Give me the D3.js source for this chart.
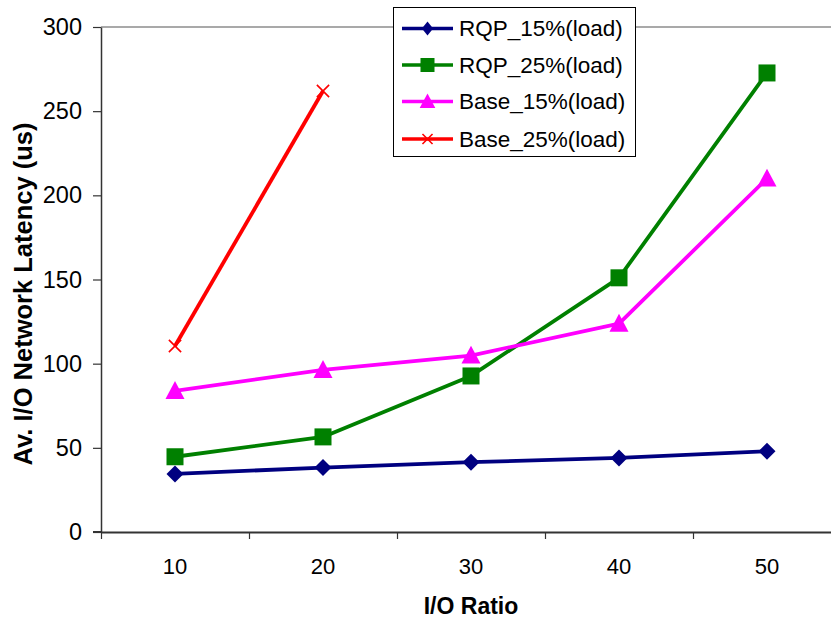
<!DOCTYPE html>
<html>
<head>
<meta charset="utf-8">
<script src="https://cdn.jsdelivr.net/npm/d3@7"></script>
<style>
  html, body { margin: 0; padding: 0; background: #fff; }
  svg { display: block; font-family: "Liberation Sans", Arial, sans-serif; }
</style>
</head>
<body>
<svg id="chart" width="831" height="619"></svg>
<script>
// I/O ratio categories and average latency (us) per configuration
const categories = ["10", "20", "30", "40", "50"];
const rqp15 = [34.5, 38.3, 41.5, 44, 48];
const rqp25 = [44.7, 56.5, 92.7, 151, 272.7];
const base15 = [83.8, 96.3, 104.8, 123.8, 210];
const base25 = [110.5, 262];
const yTicks = [0, 50, 100, 150, 200, 250, 300];

const series = [
  { name: "RQP_15%(load)", values: rqp15, color: "#000080", marker: "diamond" },
  { name: "RQP_25%(load)", values: rqp25, color: "#008000", marker: "square" },
  { name: "Base_15%(load)", values: base15, color: "#FF00FF", marker: "triangle" },
  { name: "Base_25%(load)", values: base25, color: "#FF0000", marker: "cross" }
];

const svg = d3.select("#chart");
const plotLeft = 101, plotRight = 841, plotTop = 27, plotBottom = 532;

const x = d3.scaleBand().domain(categories).range([plotLeft, plotRight]).paddingInner(0).paddingOuter(0);
const y = d3.scaleLinear().domain([0, 300]).range([plotBottom, plotTop]);
const edges = d3.scaleLinear().domain([0, categories.length]).range([plotLeft, plotRight]);

// top border line at the axis maximum
svg.append("line")
  .attr("x1", plotLeft).attr("x2", plotRight)
  .attr("y1", y(300)).attr("y2", y(300))
  .attr("stroke", "#8c8c8c").attr("stroke-width", 1.5);

// y axis
const yAxis = svg.append("g")
  .attr("transform", `translate(${plotLeft},0)`)
  .call(d3.axisLeft(y).tickValues(yTicks).tickSize(8).tickPadding(11).tickSizeOuter(0));
yAxis.select(".domain").attr("stroke", "#333").attr("stroke-width", 1.5);
yAxis.selectAll(".tick line").attr("stroke", "#333").attr("stroke-width", 1.2);
yAxis.selectAll(".tick text")
  .attr("font-size", 23.5).attr("fill", "#000")
  .attr("font-family", "Liberation Sans, Arial, sans-serif");

// x axis: ticks at category boundaries
const xEdgeAxis = svg.append("g")
  .attr("transform", `translate(0,${plotBottom})`)
  .call(d3.axisBottom(edges).tickValues(d3.range(categories.length + 1)).tickSize(7).tickFormat("").tickSizeOuter(0));
xEdgeAxis.select(".domain").attr("stroke", "#333").attr("stroke-width", 2);
xEdgeAxis.selectAll(".tick line").attr("stroke", "#333").attr("stroke-width", 1.2);

// extend the axis line through the y tick at zero
svg.append("line")
  .attr("x1", plotLeft - 8).attr("x2", plotLeft)
  .attr("y1", plotBottom).attr("y2", plotBottom)
  .attr("stroke", "#333").attr("stroke-width", 2);

// x category labels
const xLab = svg.append("g")
  .attr("transform", `translate(0,${plotBottom})`)
  .call(d3.axisBottom(x).tickSize(0).tickPadding(0));
xLab.select(".domain").remove();
xLab.selectAll(".tick text")
  .attr("y", 42).attr("dy", 0)
  .attr("font-size", 22).attr("fill", "#000")
  .attr("font-family", "Liberation Sans, Arial, sans-serif");

// axis titles
svg.append("text")
  .attr("x", (plotLeft + plotRight) / 2).attr("y", 614)
  .attr("text-anchor", "middle")
  .attr("font-size", 23).attr("font-weight", "bold")
  .text("I/O Ratio");

svg.append("text")
  .attr("transform", "translate(31.5,294) rotate(-90)")
  .attr("text-anchor", "middle")
  .attr("font-size", 25.5).attr("font-weight", "bold")
  .text("Av. I/O Network Latency (us)");

// marker shapes
function drawMarker(g, type, cx, cy, s, color, dw) {
  const wScale = dw || 1;
  if (type === "diamond") {
    const hw = s / 2 * wScale;
    g.append("path")
      .attr("d", `M${cx},${cy - s / 2}L${cx + hw},${cy}L${cx},${cy + s / 2}L${cx - hw},${cy}Z`)
      .attr("fill", color);
  } else if (type === "square") {
    const h = s * 0.5;
    g.append("rect")
      .attr("x", cx - h).attr("y", cy - h).attr("width", 2 * h).attr("height", 2 * h)
      .attr("fill", color);
  } else if (type === "triangle") {
    const w = s * 0.56, ht = s * 1.05;
    g.append("path")
      .attr("d", `M${cx},${cy - ht * 0.55}L${cx + w},${cy + ht * 0.45}L${cx - w},${cy + ht * 0.45}Z`)
      .attr("fill", color);
  } else if (type === "cross") {
    const h = s * 0.36;
    g.append("path")
      .attr("d", `M${cx - h},${cy - h}L${cx + h},${cy + h}M${cx - h},${cy + h}L${cx + h},${cy - h}`)
      .attr("stroke", color).attr("stroke-width", 1.6).attr("fill", "none");
  }
}

const line = d3.line()
  .x((d, i) => x(categories[i]) + x.bandwidth() / 2)
  .y(d => y(d));

const plot = svg.append("g");
series.forEach(s => {
  const g = plot.append("g");
  g.append("path")
    .datum(s.values)
    .attr("d", line)
    .attr("fill", "none")
    .attr("stroke", s.color)
    .attr("stroke-width", 3.8)
    .attr("stroke-linejoin", "round");
  s.values.forEach((v, i) => {
    drawMarker(g, s.marker, x(categories[i]) + x.bandwidth() / 2, y(v), 17, s.color);
  });
});

// legend
const lg = svg.append("g");
lg.append("rect")
  .attr("x", 393.5).attr("y", 7.5).attr("width", 242).attr("height", 149)
  .attr("fill", "#fff").attr("stroke", "#000").attr("stroke-width", 1);
const rowY = [28.5, 65, 101.5, 139];
series.forEach((s, i) => {
  const yy = rowY[i];
  lg.append("line")
    .attr("x1", 402).attr("x2", 453).attr("y1", yy).attr("y2", yy)
    .attr("stroke", s.color).attr("stroke-width", 3.6);
  drawMarker(lg, s.marker, 427.5, yy, 14, s.color, 0.8);
  lg.append("text")
    .attr("x", 459).attr("y", yy + 7.5)
    .attr("font-size", 22.5).attr("fill", "#000")
    .text(s.name);
});
</script>
</body>
</html>
